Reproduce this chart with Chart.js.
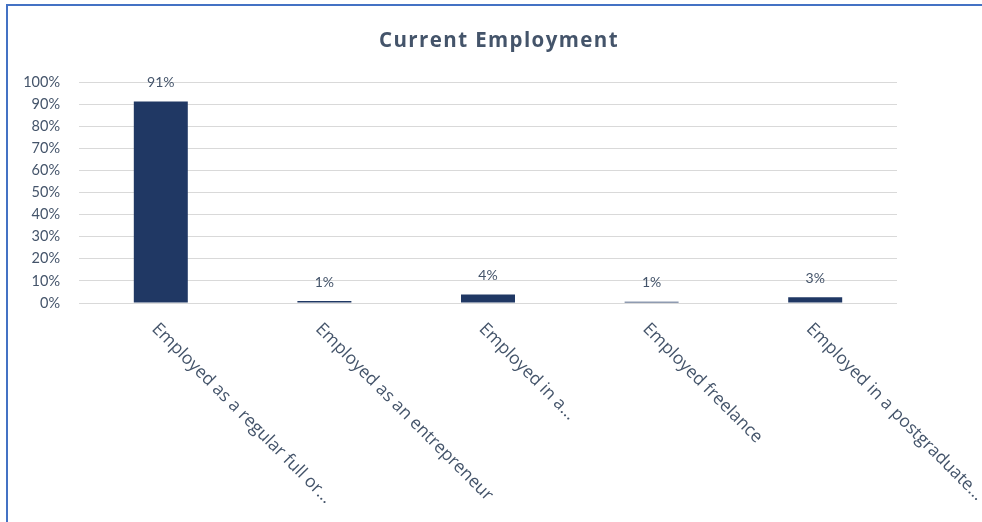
<!DOCTYPE html>
<html>
<head>
<meta charset="utf-8">
<script src="https://cdn.jsdelivr.net/npm/chart.js@4/dist/chart.umd.min.js"></script>
<style>
  html, body { margin: 0; padding: 0; background: #fff; }
  #wrap { position: relative; width: 982px; height: 522px; overflow: hidden; }
  #frame { position: absolute; left: 6px; top: 4px; width: 1000px; height: 600px;
           border-top: 2px solid #4472C4; border-left: 2px solid #4472C4; }
  canvas { position: absolute; left: 0; top: 0; }
</style>
</head>
<body>
<div id="wrap">
  <div id="frame"></div>
  <canvas id="bar-chart" width="982" height="522"></canvas>
</div>
<script>
// data
let title = 'Current Employment';
let categories = [
  'Employed as a regular full or...',
  'Employed as an entrepreneur',
  'Employed in a...',
  'Employed freelance',
  'Employed in a postgraduate...'
];
let shares = [91.2, 0.9, 3.9, 0.6, 2.6];
let yTicks = [0, 10, 20, 30, 40, 50, 60, 70, 80, 90, 100];

let textColor = '#44546A';
let barColor = '#203864';
let fontFamily = 'Lato, "Open Sans", sans-serif';
let wideFamily = '"Open Sans", Lato, sans-serif';

// title, value labels and slanted category labels
let extras = {
  id: 'extras',
  afterDraw(chart) {
    let ctx = chart.ctx;
    let xScale = chart.scales.x;
    let meta = chart.getDatasetMeta(0);
    ctx.save();
    ctx.fillStyle = textColor;

    ctx.font = 'bold 20.5px ' + wideFamily;
    ctx.letterSpacing = '1.4px';
    ctx.textAlign = 'center';
    ctx.textBaseline = 'middle';
    ctx.fillText(title, 499, 41);
    ctx.letterSpacing = '0px';

    ctx.font = '14px ' + fontFamily;
    ctx.textBaseline = 'bottom';
    meta.data.forEach((bar, i) => {
      ctx.fillText(Math.round(shares[i]) + '%', bar.x, bar.y - 12);
    });

    ctx.font = '17.5px ' + wideFamily;
    ctx.textAlign = 'left';
    ctx.textBaseline = 'top';
    categories.forEach((label, i) => {
      let x = xScale.getPixelForValue(i);
      ctx.save();
      ctx.translate(x, 320);
      ctx.rotate(Math.PI / 4);
      ctx.fillText(label, 0, 0);
      ctx.restore();
    });
    ctx.restore();
  }
};

new Chart(document.getElementById('bar-chart'), {
  type: 'bar',
  data: {
    labels: categories,
    datasets: [{
      data: shares,
      backgroundColor: barColor,
      borderWidth: 0,
      barPercentage: 0.33,
      categoryPercentage: 1
    }]
  },
  options: {
    responsive: false,
    animation: false,
    layout: { padding: { top: 82, right: 85, left: 0, bottom: 0 } },
    plugins: {
      legend: { display: false },
      title: { display: false },
      tooltip: { enabled: false }
    },
    scales: {
      x: {
        grid: { display: false },
        border: { display: false },
        ticks: { display: false },
        afterFit(scale) { scale.height = 219; }
      },
      y: {
        min: 0,
        max: 100,
        afterBuildTicks(scale) { scale.ticks = yTicks.map(v => ({ value: v })); },
        afterFit(scale) { scale.width = 79; },
        grid: { color: '#D9D9D9', drawTicks: false, lineWidth: 1 },
        border: { display: false },
        ticks: {
          color: textColor,
          font: { family: fontFamily, size: 14.5 },
          padding: 19,
          callback: v => v + '%'
        }
      }
    }
  },
  plugins: [extras]
});
</script>
</body>
</html>
